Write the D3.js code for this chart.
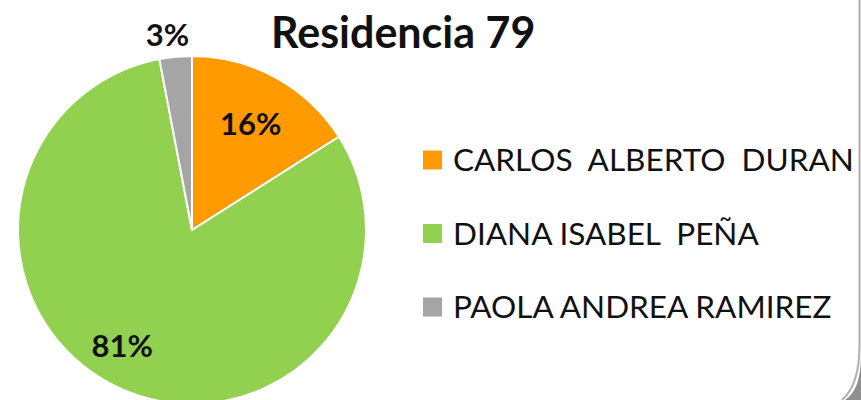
<!DOCTYPE html>
<html>
<head>
<meta charset="utf-8">
<script src="https://cdn.jsdelivr.net/npm/d3@7"></script>
<style>
  html, body { margin: 0; padding: 0; background: #ffffff; }
  svg { display: block; }
  text { font-family: Lato, "Open Sans", sans-serif; white-space: pre; }
</style>
</head>
<body>
<svg id="chart" width="861" height="400"></svg>
<script>
const title = "Residencia 79";
const categories = ["CARLOS  ALBERTO  DURAN", "DIANA ISABEL  PEÑA", "PAOLA ANDREA RAMIREZ"];
const values = [16, 81, 3];
const labels = ["16%", "81%", "3%"];
const colors = ["#FF9A00", "#92D050", "#A5A5A5"];
const labelRadius = [0.70, 0.72, 1.13];
const labelShift = [0, -20, -6];

const svg = d3.select("#chart");
const W = 861, H = 400;
const cx = 192, cy = 230, R = 174;

// right border of the chart frame with rounded corner shadow
svg.append("path")
  .attr("d", "M859.5,0 L859.5,345 Q859.5,385 842,400")
  .attr("fill", "none").attr("stroke", "#b0b0b0").attr("stroke-width", 2);
svg.append("path")
  .attr("d", "M861,355 Q861,390 845,400 L861,400 Z")
  .attr("fill", "#8f8f8f");

const pie = d3.pie().sort(null).value(d => d)(values);
const arc = d3.arc().innerRadius(0).outerRadius(R);
const g = svg.append("g").attr("transform", `translate(${cx},${cy})`);
g.selectAll("path.slice").data(pie).join("path")
  .attr("class", "slice")
  .attr("d", arc)
  .attr("fill", (d, i) => colors[i])
  .attr("stroke", "#ffffff").attr("stroke-width", 2).attr("stroke-linejoin", "round");

g.selectAll("text.lbl").data(pie).join("text")
  .attr("class", "lbl")
  .attr("x", (d, i) => d3.arc().innerRadius(R * labelRadius[i]).outerRadius(R * labelRadius[i]).centroid(d)[0] + labelShift[i])
  .attr("y", (d, i) => d3.arc().innerRadius(R * labelRadius[i]).outerRadius(R * labelRadius[i]).centroid(d)[1])
  .attr("text-anchor", "middle").attr("dominant-baseline", "central")
  .attr("font-size", 31).attr("font-weight", "bold").attr("fill", "#111")
  .text((d, i) => labels[i]);

svg.append("text")
  .attr("x", 271).attr("y", 48)
  .attr("font-size", 43).attr("font-weight", "bold").attr("fill", "#111")
  .text(title);

const ly = d3.scalePoint().domain(categories).range([160, 307]);
const leg = svg.append("g");
leg.selectAll("rect").data(categories).join("rect")
  .attr("x", 423).attr("y", d => ly(d) - 9.5)
  .attr("width", 19).attr("height", 19)
  .attr("fill", (d, i) => colors[i]);
leg.selectAll("text").data(categories).join("text")
  .attr("x", 453).attr("y", d => ly(d) + 11)
  .attr("font-size", 31.5).attr("fill", "#111")
  .text(d => d);
</script>
</body>
</html>
